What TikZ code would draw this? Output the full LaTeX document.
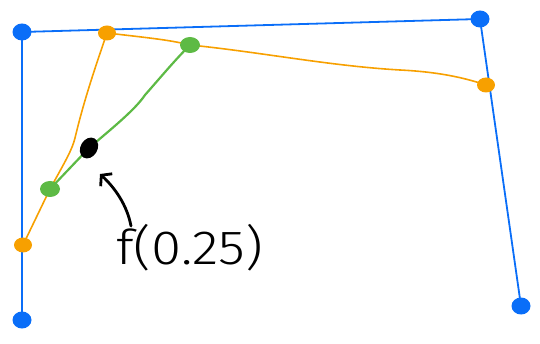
\documentclass[tikz,border=0pt]{standalone}
\usepackage{fontspec}
\newfontfamily\handfont{Fira Sans Light}
\usetikzlibrary{arrows.meta,shapes.geometric}
\definecolor{ctrlblue}{HTML}{0A6EF8}
\definecolor{lerporange}{HTML}{F7A000}
\definecolor{lerpgreen}{HTML}{5DBA45}
\tikzset{
  dot/.style={ellipse,inner sep=0pt,outer sep=0pt,minimum width=19pt,minimum height=17pt,fill=#1},
  bluedot/.style={dot=ctrlblue},
  orangedot/.style={dot=lerporange,minimum width=18pt,minimum height=15pt},
  greendot/.style={dot=lerpgreen,minimum width=20pt,minimum height=16pt},
  blackdot/.style={ellipse,inner sep=0pt,fill=black,minimum width=22pt,minimum height=17pt,rotate=60},
  hull/.style={ctrlblue,line width=1.8pt},
  firstlerp/.style={lerporange,line width=1.6pt},
  secondlerp/.style={lerpgreen,line width=2.2pt},
  pointer/.style={black,line width=2.8pt,line cap=round,-{Straight Barb[length=7pt,width=17pt,line width=2.8pt]}}
}
\begin{document}
\begin{tikzpicture}[x=1pt,y=-1pt]
  \useasboundingbox (0,0) rectangle (540,344);
  % control points
  \coordinate (p0) at (22,320);
  \coordinate (p1) at (22,32);
  \coordinate (p2) at (480,19);
  \coordinate (p3) at (521,306);
  % first level interpolations
  \coordinate (q0) at (23,245);
  \coordinate (q1) at (107,33);
  \coordinate (q2) at (486,85);
  % second level interpolations
  \coordinate (r0) at (50,189);
  \coordinate (r1) at (190,45);
  % curve point
  \coordinate (s) at (89,148);

  % control polygon
  \draw[hull] (p0) -- (p1) -- (p2) -- (p3);
  % first level segments
  \draw[firstlerp] (q0) -- (r0) .. controls (66,160) and (72,150) .. (75,138)
     .. controls (84,100) and (96,65) .. (q1);
  \draw[firstlerp] (q1) .. controls (150,38) and (170,40) .. (r1)
     .. controls (260,52) and (330,66) .. (400,70)
     .. controls (440,72) and (465,78) .. (q2);
  % second level segment
  \draw[secondlerp] (r0) -- (s) .. controls (110,130) and (135,110) .. (145,95)
     .. controls (160,78) and (175,60) .. (r1);

  % dots
  \foreach \n in {p0,p1,p2,p3} \node[bluedot] (\n d) at (\n) {};
  \foreach \n in {q0,q1,q2} \node[orangedot] (\n d) at (\n) {};
  \foreach \n in {r0,r1} \node[greendot] (\n d) at (\n) {};
  \node[blackdot] (sd) at (s) {};

  % label with pointer
  \node[anchor=base west,inner sep=0pt,xscale=1.14,font=\handfont\fontsize{48}{48}\selectfont] (lbl) at (116,265) {f(0.25)};
  \coordinate (tail) at (131,226);
  \coordinate (tip) at (100,174);
  \draw[pointer] (tail) .. controls (127,205) and (115,188) .. (tip);
\end{tikzpicture}
\end{document}
